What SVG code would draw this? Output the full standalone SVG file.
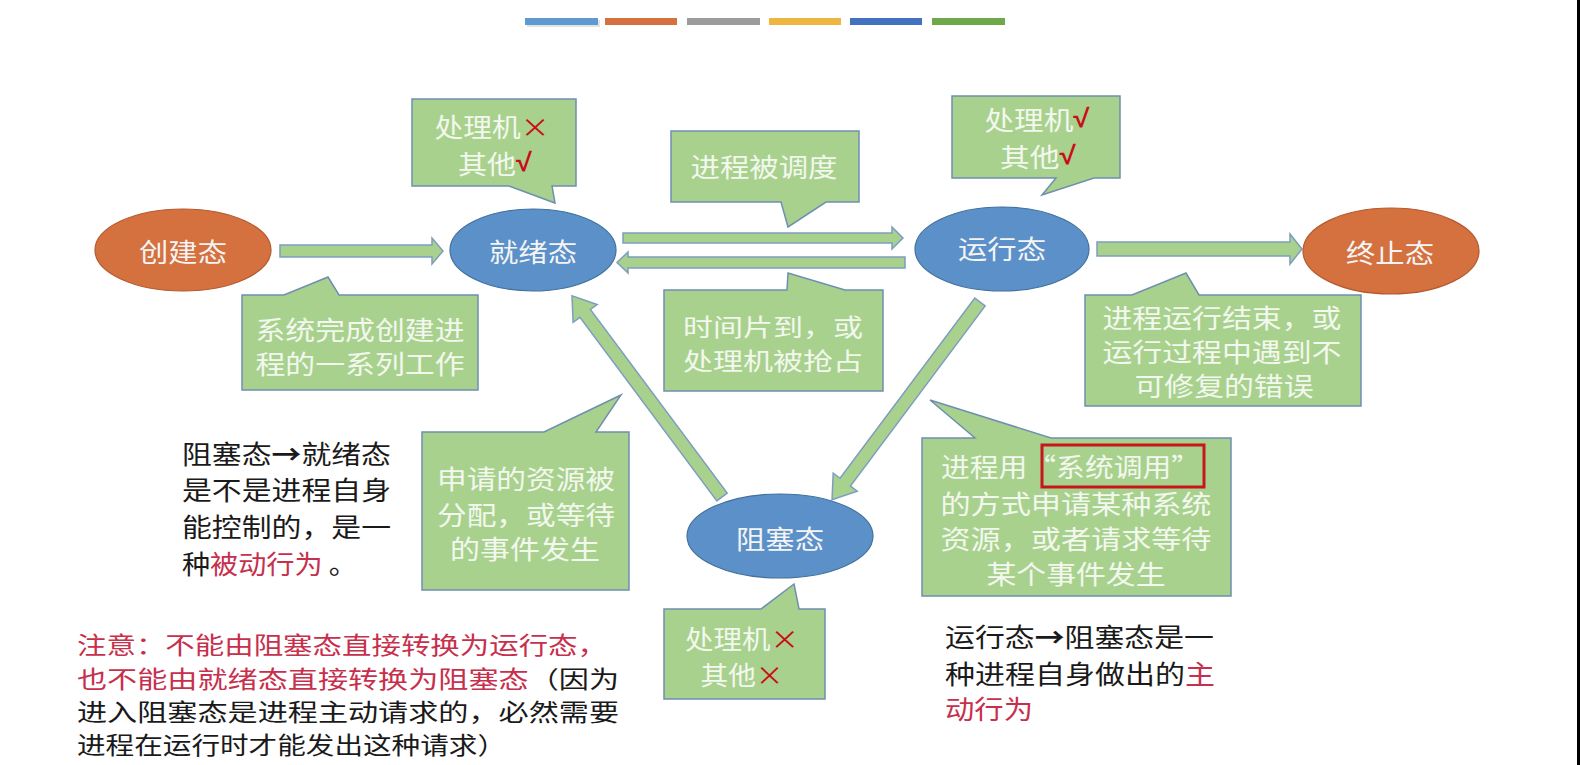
<svg xmlns="http://www.w3.org/2000/svg" width="1580" height="765" viewBox="0 0 1580 765">
<style>
text{font-family:"Noto Sans CJK SC","Noto Sans",sans-serif;font-size:26px;dominant-baseline:central}
.sm{font-size:24px}
.co{fill:#A9D18E;stroke:#6F8FB0;stroke-width:1.5}
.ct{fill:#F3F8EE;text-anchor:middle}
.arr{fill:#A9D18E;stroke:#7D9DC0;stroke-width:1.5}
.eb{fill:#5B90C9;stroke:#41719C;stroke-width:1.2}
.eo{fill:#D5703F;stroke:#B45A2E;stroke-width:1.2}
.et{fill:#F4F4F4;text-anchor:middle}
.r{fill:#C80E16}
.ck{fill:#C80E16;font-family:"Liberation Sans",sans-serif;font-weight:bold}
.blk{fill:#1A1A1A}
.red{fill:#C7304D}
</style>
<rect width="1580" height="765" fill="#FFFFFF"/>
<g id="colorbar">
<rect x="527" y="20" width="73" height="7" fill="#C8C8C8" opacity="0.5"/>
<rect x="525" y="18" width="73" height="7" fill="#5E9AD0"/>
<rect x="605" y="18" width="72" height="7" fill="#D5703F"/>
<rect x="687" y="18" width="73" height="7" fill="#9C9C9C"/>
<rect x="769" y="18" width="72" height="7" fill="#EEB640"/>
<rect x="850" y="18" width="72" height="7" fill="#4470C0"/>
<rect x="932" y="18" width="73" height="7" fill="#6EA848"/>
</g>
<g id="connectors">
<polygon class="arr" points="280,245 432,245 432,238 443,251 432,264 432,257 280,257"/>
<polygon class="arr" points="623,233 892,233 892,227 903,238 892,249 892,243 623,243"/>
<polygon class="arr" points="905,257 628,257 628,252 617,262.5 628,273 628,268 905,268"/>
<polygon class="arr" points="1097,242 1290,242 1290,234 1302,249 1290,264 1290,256 1097,256"/>
<polygon class="arr" transform="translate(980,302) rotate(126.8)" points="0,-6.5 225,-6.5 225,-15 247,0 225,15 225,6.5 0,6.5"/>
<polygon class="arr" transform="translate(722,497) rotate(-126.7)" points="0,-6.5 229,-6.5 229,-15 251,0 229,15 229,6.5 0,6.5"/>
</g>
<g id="n-create"><ellipse class="eo" cx="183" cy="250" rx="88" ry="41"/><text class="et" x="183" y="250" textLength="88" lengthAdjust="spacingAndGlyphs">创建态</text></g>
<g id="n-ready"><ellipse class="eb" cx="533" cy="250" rx="83" ry="41"/><text class="et" x="533" y="250" textLength="88" lengthAdjust="spacingAndGlyphs">就绪态</text></g>
<g id="n-run"><ellipse class="eb" cx="1002" cy="249" rx="87" ry="42"/><text class="et" x="1002" y="247" textLength="88" lengthAdjust="spacingAndGlyphs">运行态</text></g>
<g id="n-end"><ellipse class="eo" cx="1391" cy="251" rx="88" ry="43"/><text class="et" x="1390" y="251" textLength="88" lengthAdjust="spacingAndGlyphs">终止态</text></g>
<g id="n-block"><ellipse class="eb" cx="780" cy="536" rx="93" ry="42"/><text class="et" x="780" y="537" textLength="88" lengthAdjust="spacingAndGlyphs">阻塞态</text></g>
<g id="c-ready">
<path class="co" d="M412,99 H576 V186 H552 L555,203 L509,186 H412 Z"/>
<text class="ct" x="492" y="125" textLength="115" lengthAdjust="spacingAndGlyphs">处理机<tspan class="r">×</tspan></text>
<text class="ct" x="495" y="162" textLength="74" lengthAdjust="spacingAndGlyphs">其他<tspan class="ck">√</tspan></text>
</g>
<g id="c-sched">
<path class="co" d="M671,131 H859 V202 H826 L788,227 L781,202 H671 Z"/>
<text class="ct" x="764" y="165" textLength="147" lengthAdjust="spacingAndGlyphs">进程被调度</text>
</g>
<g id="c-run">
<path class="co" d="M952,96 H1120 V178 H1094 L1042,195 L1056,178 H952 Z"/>
<text class="ct" x="1037" y="118" textLength="105" lengthAdjust="spacingAndGlyphs">处理机<tspan class="ck">√</tspan></text>
<text class="ct" x="1038" y="155" textLength="76" lengthAdjust="spacingAndGlyphs">其他<tspan class="ck">√</tspan></text>
</g>
<g id="c-create">
<path class="co" d="M242,295 H284 L328,277 L339,295 H478 V390 H242 Z"/>
<text class="ct" x="360" y="328" textLength="209" lengthAdjust="spacingAndGlyphs">系统完成创建进</text>
<text class="ct" x="360" y="362" textLength="209" lengthAdjust="spacingAndGlyphs">程的一系列工作</text>
</g>
<g id="c-timeout">
<path class="co" d="M664,290 H787 L788,273 L845,290 H883 V391 H664 Z"/>
<text class="ct sm" x="773" y="325" textLength="180" lengthAdjust="spacingAndGlyphs">时间片到，或</text>
<text class="ct sm" x="773" y="359" textLength="180" lengthAdjust="spacingAndGlyphs">处理机被抢占</text>
</g>
<g id="c-end">
<path class="co" d="M1085,295 H1132 L1186,273 L1199,295 H1361 V406 H1085 Z"/>
<text class="ct" x="1222" y="316" textLength="239" lengthAdjust="spacingAndGlyphs">进程运行结束，或</text>
<text class="ct" x="1222" y="350" textLength="239" lengthAdjust="spacingAndGlyphs">运行过程中遇到不</text>
<text class="ct" x="1224" y="384" textLength="179" lengthAdjust="spacingAndGlyphs">可修复的错误</text>
</g>
<g id="c-wake">
<path class="co" d="M422,432 H544 L621,395 L596,432 H629 V590 H422 Z"/>
<text class="ct" x="526" y="477" textLength="178" lengthAdjust="spacingAndGlyphs">申请的资源被</text>
<text class="ct" x="526" y="513" textLength="178" lengthAdjust="spacingAndGlyphs">分配，或等待</text>
<text class="ct" x="525" y="547" textLength="150" lengthAdjust="spacingAndGlyphs">的事件发生</text>
</g>
<g id="c-syscall">
<path class="co" d="M922,438 H975 L930,400 L1051,438 H1231 V596 H922 Z"/>
<text class="ct" x="941" y="465" style="text-anchor:start" textLength="259" lengthAdjust="spacingAndGlyphs">进程用“系统调用”</text>
<text class="ct" x="1076" y="502" textLength="271" lengthAdjust="spacingAndGlyphs">的方式申请某种系统</text>
<text class="ct" x="1076" y="537" textLength="271" lengthAdjust="spacingAndGlyphs">资源，或者请求等待</text>
<text class="ct" x="1076" y="572" textLength="179" lengthAdjust="spacingAndGlyphs">某个事件发生</text>
<rect x="1042" y="445" width="162" height="42" fill="none" stroke="#C8161D" stroke-width="3"/>
</g>
<g id="c-block">
<path class="co" d="M664,609 H761 L794,584 L799,609 H825 V699 H664 Z"/>
<text class="ct" x="742" y="637" textLength="114" lengthAdjust="spacingAndGlyphs">处理机<tspan class="r">×</tspan></text>
<text class="ct" x="742" y="673" textLength="83" lengthAdjust="spacingAndGlyphs">其他<tspan class="r">×</tspan></text>
</g>
<g id="note-left">
<text class="blk" x="182" y="452" textLength="209" lengthAdjust="spacingAndGlyphs">阻塞态<tspan font-weight="bold">→</tspan>就绪态</text>
<text class="blk" x="182" y="488" textLength="209" lengthAdjust="spacingAndGlyphs">是不是进程自身</text>
<text class="blk" x="182" y="525" textLength="209" lengthAdjust="spacingAndGlyphs">能控制的，是一</text>
<text class="blk" x="182" y="562" textLength="175" lengthAdjust="spacingAndGlyphs">种<tspan class="red">被动行为</tspan> 。</text>
</g>
<g id="note-bottom">
<text class="red sm" x="77" y="643" textLength="530" lengthAdjust="spacingAndGlyphs">注意：不能由阻塞态直接转换为运行态，</text>
<text class="red sm" x="77" y="677" textLength="542" lengthAdjust="spacingAndGlyphs">也不能由就绪态直接转换为阻塞态<tspan class="blk">（因为</tspan></text>
<text class="blk sm" x="77" y="710" textLength="542" lengthAdjust="spacingAndGlyphs">进入阻塞态是进程主动请求的，必然需要</text>
<text class="blk sm" x="77" y="743" textLength="429" lengthAdjust="spacingAndGlyphs">进程在运行时才能发出这种请求）</text>
</g>
<g id="note-right">
<text class="blk" x="945" y="635" textLength="269" lengthAdjust="spacingAndGlyphs">运行态<tspan font-weight="bold">→</tspan>阻塞态是一</text>
<text class="blk" x="945" y="672" textLength="270" lengthAdjust="spacingAndGlyphs">种进程自身做出的<tspan class="red">主</tspan></text>
<text class="red" x="945" y="707" textLength="88" lengthAdjust="spacingAndGlyphs">动行为</text>
</g>
<rect x="1577" y="0" width="3" height="765" fill="#000000"/>
</svg>
